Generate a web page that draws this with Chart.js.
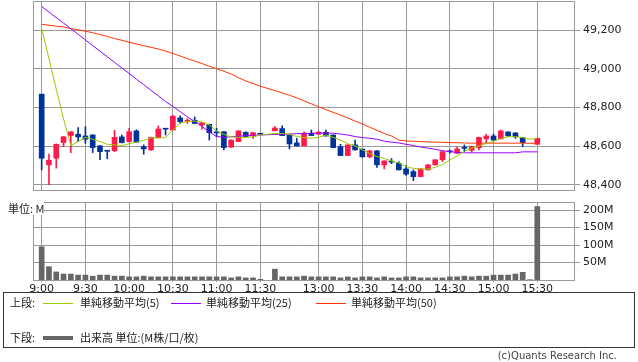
<!DOCTYPE html>
<html>
<head>
<meta charset="utf-8">
<script src="https://cdn.jsdelivr.net/npm/chart.js@4.4.1/dist/chart.umd.min.js"></script>
<style>
  body { margin: 0; background: #fff; width: 638px; height: 362px; position: relative; overflow: hidden; font-family: "DejaVu Sans", sans-serif; }
  #priceChart { position: absolute; left: 0; top: 0; }
  #volumeChart { position: absolute; left: 0; top: 196px; }
  .jp { font-family: "Noto Sans CJK JP", sans-serif; font-size: 11px; color: #222; position: absolute; white-space: nowrap; line-height: 13px; }
  #unit { left: 8px; top: 202px; background: #fff; }
  #legend { position: absolute; left: 3px; top: 292px; width: 630px; height: 54px; border: 1px solid #333; }
  .sw { position: absolute; height: 1px; width: 30px; }
  #copy { position: absolute; right: 21px; top: 350px; font-family: "DejaVu Sans", sans-serif; font-size: 10px; color: #444; }
</style>
</head>
<body>
<canvas id="priceChart" width="638" height="191"></canvas>
<canvas id="volumeChart" width="638" height="104"></canvas>
<div id="unit" class="jp">単位: M</div>
<div id="legend">
  <span class="jp" style="left:6px;top:3px">上段:</span>
  <span class="sw" style="left:39px;top:10px;background:#99cc00"></span>
  <span class="jp" style="left:76px;top:3px">単純移動平均(5)</span>
  <span class="sw" style="left:167px;top:10px;background:#9900ff"></span>
  <span class="jp" style="left:202px;top:3px">単純移動平均(25)</span>
  <span class="sw" style="left:312px;top:10px;background:#ff3300"></span>
  <span class="jp" style="left:347px;top:3px">単純移動平均(50)</span>
  <span class="jp" style="left:6px;top:38px">下段:</span>
  <span class="sw" style="left:39px;top:43px;height:4px;background:#666"></span>
  <span class="jp" style="left:76px;top:38px">出来高 単位:(M株/口/枚)</span>
</div>
<div id="copy">(c)Quants Research Inc.</div>
<script>
// === Data ===
const times = [
  '9:00','9:05','9:10','9:15','9:20','9:25','9:30','9:35','9:40','9:45','9:50','9:55',
  '10:00','10:05','10:10','10:15','10:20','10:25','10:30','10:35','10:40','10:45','10:50','10:55',
  '11:00','11:05','11:10','11:15','11:20','11:25','11:30','',
  '12:30','12:35','12:40','12:45','12:50','12:55',
  '13:00','13:05','13:10','13:15','13:20','13:25','13:30','13:35','13:40','13:45','13:50','13:55',
  '14:00','14:05','14:10','14:15','14:20','14:25','14:30','14:35','14:40','14:45','14:50','14:55',
  '15:00','15:05','15:10','15:15','15:20','15:25','15:30'
];
const tickLabels = ['9:00','9:30','10:00','10:30','11:00','11:30','13:00','13:30','14:00','14:30','15:00','15:30'];
const priceTicks = [48400, 48600, 48800, 49000, 49200];
const volumeTicks = [50, 100, 150, 200];

const openP = [
  48869,48504,48538,48619,48655,48662,48653,48658,48602,48576,48577,48648,
  48624,48679,48598,48581,48644,48689,48684,48746,48729,48734,48710,48713,
  48671,48675,48595,48624,48672,48655,48664,null,
  48680,48691,48658,48617,48602,48667,
  48662,48672,48658,48598,48552,48607,48585,48545,48576,48504,48520,48512,
  48483,48469,48443,48478,48504,48530,48573,48564,48591,48579,48593,48638,
  48653,48638,48674,48669,48644,null,48610
];
const highP = [
  48869,48560,48612,48650,48676,48696,48701,48660,48603,48577,48682,48658,
  48693,48685,48607,48647,48705,48690,48760,48757,48742,48751,48723,48714,
  48693,48676,48633,48681,48675,48671,48666,null,
  48701,48705,48659,48641,48674,48684,
  48679,48684,48659,48610,48608,48632,48586,48579,48577,48525,48536,48520,
  48500,48478,48484,48505,48531,48573,48580,48597,48607,48600,48647,48662,
  48663,48684,48675,48670,48645,null,48642
];
const lowP = [
  48478,48401,48487,48598,48567,48624,48615,48567,48530,48535,48572,48617,
  48622,48620,48559,48578,48643,48658,48683,48718,48718,48717,48688,48632,
  48649,48581,48594,48623,48648,48641,48660,null,
  48679,48654,48586,48601,48601,48654,
  48661,48652,48592,48551,48551,48580,48544,48540,48490,48483,48510,48477,
  48449,48423,48442,48477,48503,48521,48564,48563,48572,48570,48581,48615,
  48631,48637,48652,48641,48598,null,48609
];
const closeP = [
  48538,48528,48610,48649,48674,48648,48636,48593,48572,48574,48646,48619,
  48675,48621,48586,48646,48689,48688,48755,48727,48731,48718,48722,48670,
  48669,48593,48632,48679,48649,48670,48662,null,
  48694,48655,48612,48602,48667,48655,
  48672,48653,48593,48552,48607,48581,48545,48576,48504,48524,48518,48478,
  48456,48443,48483,48504,48530,48572,48571,48586,48589,48598,48646,48653,
  48632,48679,48653,48649,48619,null,48641
];
const ma5 = [
  49209,49051,48895,48741,48603,48624,48646,48636,48624,48610,48607,48602,
  48613,48621,48630,48643,48643,48644,48684,48720,48727,48730,48725,48710,
  48679,48661,48648,48646,48646,48648,48658,null,
  48666,48666,48662,48650,48645,48641,
  48646,48658,48646,48632,48613,48602,48581,48563,48547,48537,48524,48514,
  48495,48486,48482,48482,48491,48506,48529,48550,48573,48590,48602,48614,
  48625,48640,48649,48649,48645,48636,48641
];
const ma25 = [
  49322,49293,49264,49236,49207,49178,49149,49120,49091,49062,49033,49004,
  48976,48946,48918,48889,48860,48831,48806,48779,48751,48728,48702,48674,
  48650,48646,48649,48651,48655,48657,48658,null,
  48661,48662,48663,48665,48666,48667,
  48668,48668,48667,48663,48658,48650,48645,48641,48636,48626,48621,48617,
  48610,48604,48596,48590,48584,48577,48572,48568,48566,48566,48566,48566,
  48566,48566,48566,48566,48571,48571,48571
];
const ma50 = [
  49230,49225,49220,49216,49208,49201,49194,49186,49177,49167,49156,49147,
  49137,49128,49119,49111,49102,49092,49079,49066,49052,49040,49027,49013,
  49000,48987,48973,48954,48937,48924,48910,null,
  48887,48875,48863,48850,48834,48819,
  48804,48789,48775,48761,48746,48730,48715,48698,48682,48666,48653,48632,
  48627,48626,48624,48622,48621,48620,48619,48618,48617,48616,48616,48616,
  48616,48616,48616,48616,48616,48615,48615
];
const volume = [
  95,38,23,17,17,14,14,11,14,14,11,11,
  9,9,11,9,9,9,9,9,9,9,9,9,
  9,9,6,9,6,6,2,null,
  31,9,9,9,11,9,
  9,9,9,6,9,6,9,9,6,9,6,6,
  9,9,6,6,6,6,9,9,11,9,11,11,
  14,14,14,17,22,1,210
];

// === Look ===
const UP = '#ff1a4d', DOWN = '#003399', GRID = '#999';
const tickFont = { family: 'DejaVu Sans', size: 11 };
const X_MIN = -1.19, X_MAX = 73.04;
const tickIdx = tickLabels.map(t => times.indexOf(t));

const frame = {
  id: 'frame',
  beforeDatasetsDraw(chart) {
    const a = chart.chartArea, ctx = chart.ctx;
    ctx.save();
    ctx.strokeStyle = GRID;
    ctx.lineWidth = 1;
    ctx.strokeRect(Math.round(a.left) + 0.5, Math.round(a.top) + 0.5, Math.round(a.width), Math.round(a.height));
    ctx.restore();
  }
};

function xAxis(showLabels, height) {
  return {
    type: 'linear', min: X_MIN, max: X_MAX, offset: false,
    afterBuildTicks: s => { s.ticks = tickIdx.map(v => ({ value: v })); },
    ticks: { display: showLabels, autoSkip: false, maxRotation: 0, padding: 1, color: '#222', font: tickFont,
      callback: v => times[v] },
    grid: { color: GRID, offset: false, drawTicks: showLabels, tickLength: 2 },
    border: { display: false },
    afterFit: s => { s.height = height; s.paddingLeft = 0; s.paddingRight = 0; }
  };
}

function yAxis(min, max, ticks, fmt) {
  return {
    type: 'linear', position: 'right', min: min, max: max,
    afterBuildTicks: s => { s.ticks = ticks.map(v => ({ value: v })); },
    ticks: { padding: 3, color: '#222', font: tickFont, callback: fmt },
    grid: { color: GRID, tickLength: 6 },
    border: { display: false },
    afterFit: s => { s.width = 64; s.paddingTop = 0; s.paddingBottom = 0; }
  };
}

const candleIdx = times.map((t, i) => i).filter(i => openP[i] !== null);
const candleColor = ctx => {
  const i = ctx.raw ? ctx.raw.x : 0;
  return closeP[i] >= openP[i] ? UP : DOWN;
};
const maLine = (arr, color) => ({
  type: 'line', data: arr.map((v, i) => ({ x: i, y: v })), borderColor: color,
  borderWidth: 1, pointRadius: 0, spanGaps: true, order: 0
});

// === Price chart ===
new Chart(document.getElementById('priceChart'), {
  type: 'bar',
  data: {
    datasets: [
      maLine(ma5, '#99cc00'),
      maLine(ma25, '#9900ff'),
      maLine(ma50, '#ff3300'),
      { type: 'bar', data: candleIdx.map(i => ({ x: i, y: [openP[i], closeP[i]] })),
        backgroundColor: candleColor, barThickness: 5, minBarLength: 1, grouped: false, order: 1 },
      { type: 'bar', data: candleIdx.map(i => ({ x: i, y: [lowP[i], highP[i]] })),
        backgroundColor: candleColor, barThickness: 1, grouped: false, order: 2 }
    ]
  },
  options: {
    responsive: false, animation: false, devicePixelRatio: 1,
    layout: { padding: { left: 33, top: 1, right: 0, bottom: 0 } },
    plugins: { legend: { display: false }, tooltip: { enabled: false } },
    scales: {
      x: xAxis(false, 1),
      y: yAxis(48374, 49350, priceTicks, v => v.toLocaleString('en-US'))
    }
  },
  plugins: [frame]
});

// === Volume chart ===
new Chart(document.getElementById('volumeChart'), {
  type: 'bar',
  data: {
    datasets: [{
      data: candleIdx.concat(times.map((t, i) => i).filter(i => openP[i] === null && volume[i] !== null))
        .map(i => ({ x: i, y: volume[i] })),
      backgroundColor: '#666', barThickness: 5, grouped: false
    }]
  },
  options: {
    responsive: false, animation: false, devicePixelRatio: 1,
    layout: { padding: { left: 33, top: 6, right: 0, bottom: 0 } },
    plugins: { legend: { display: false }, tooltip: { enabled: false } },
    scales: {
      x: xAxis(true, 20),
      y: yAxis(0, 223, volumeTicks, v => v + 'M')
    }
  },
  plugins: [frame]
});
</script>
</body>
</html>
